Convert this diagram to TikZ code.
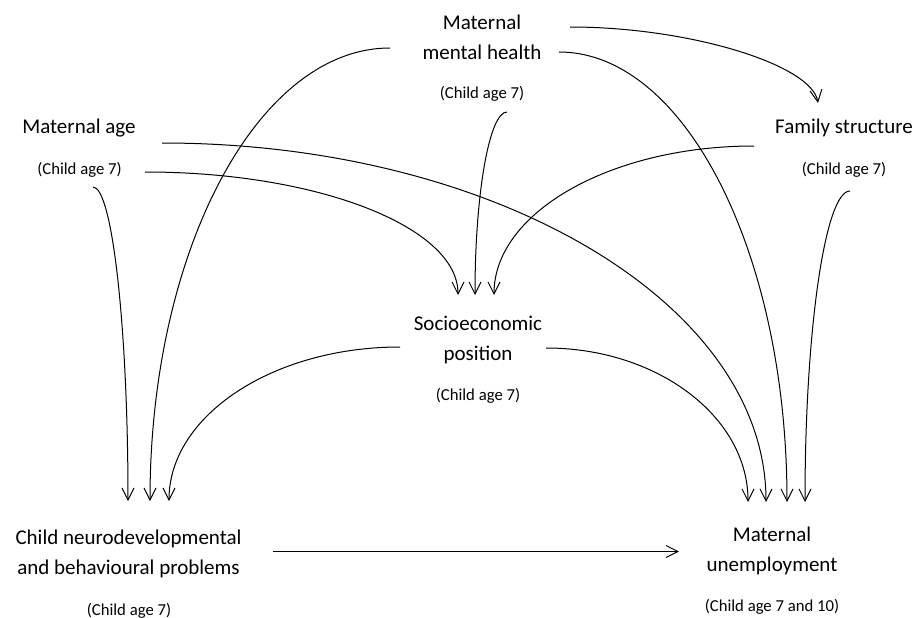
\documentclass[tikz,border=0pt]{standalone}
\usepackage{fontspec}
\setmainfont{Carlito}
\usetikzlibrary{arrows.meta}
\begin{document}
\begin{tikzpicture}[x=1pt,y=-1pt,
  mainlbl/.style={inner sep=0pt,align=center,font=\fontsize{21}{30}\selectfont},
  agelbl/.style={inner sep=0pt,align=center,font=\fontsize{16.7}{20}\selectfont},
  arr/.style={line width=1pt,-{Straight Barb[length=12pt,width=12pt,line width=1pt]}}]
\useasboundingbox (0,0) rectangle (924,618);
% nodes
\node[mainlbl] (mmh) at (482,37.5) {Maternal\\mental health};
\node[agelbl] (mmhage) at (482,94) {(Child age 7)};
\node[mainlbl] (mage) at (79,128) {Maternal age};
\node[agelbl] (mageage) at (79.5,170) {(Child age 7)};
\node[mainlbl] (fam) at (844,128) {Family structure};
\node[agelbl] (famage) at (844,170) {(Child age 7)};
\node[mainlbl] (sep) at (478,340) {Socioeconomic\\position};
\node[agelbl] (sepage) at (478,396) {(Child age 7)};
\node[mainlbl] (cn) at (128.5,554) {Child neurodevelopmental\\and behavioural problems};
\node[agelbl] (cnage) at (129,611) {(Child age 7)};
\node[mainlbl] (mu) at (772,551) {Maternal\\unemployment};
\node[agelbl] (muage) at (772,607) {(Child age 7 and 10)};
% connectors
\draw[arr] ([shift={(88,-10.5)}]mmh.center) .. controls +(120,0) and +(-6,-38) .. ([shift={(-26,-25)}]fam.center);
\draw[arr] ([shift={(77,14.5)}]mmh.center) .. controls +(126,0) and +(0,-248.5) .. ([shift={(15,-49)}]mu.center);
\draw[arr] ([shift={(-92,10.5)}]mmh.center) .. controls +(-132.5,0) and +(0,-250) .. ([shift={(21.5,-53)}]cn.center);
\draw[arr] ([shift={(83,15)}]mage.center) .. controls +(333.6,0) and +(0,-198.3) .. ([shift={(-6,-49)}]mu.center);
\draw[arr] ([shift={(65.5,2)}]mageage.center) .. controls +(172.9,0) and +(0,-67.9) .. ([shift={(-20,-45)}]sep.center);
\draw[arr] ([shift={(13.5,17)}]mageage.center) .. controls +(19.3,0) and +(0,-173.4) .. ([shift={(-0.5,-53)}]cn.center);
\draw[arr] ([shift={(25,18)}]mmhage.center) .. controls +(-17.7,0) and +(0,-101) .. ([shift={(-3,-45)}]sep.center);
\draw[arr] ([shift={(-90,18)}]fam.center) .. controls +(-143.6,0) and +(0,-82.3) .. ([shift={(16,-45)}]sep.center);
\draw[arr] ([shift={(6,21)}]famage.center) .. controls +(-24.9,0) and +(0,-171.8) .. ([shift={(33,-49)}]mu.center);
\draw[arr] ([shift={(-78,7)}]sep.center) .. controls +(-127.6,0) and +(0,-85) .. ([shift={(40.5,-53)}]cn.center);
\draw[arr] ([shift={(68,8)}]sep.center) .. controls +(111.6,0) and +(0,-85) .. ([shift={(-24,-49)}]mu.center);
\draw[arr] ([shift={(144.5,-2.5)}]cn.center) -- ([shift={(-93,0.5)}]mu.center);
\end{tikzpicture}
\end{document}
